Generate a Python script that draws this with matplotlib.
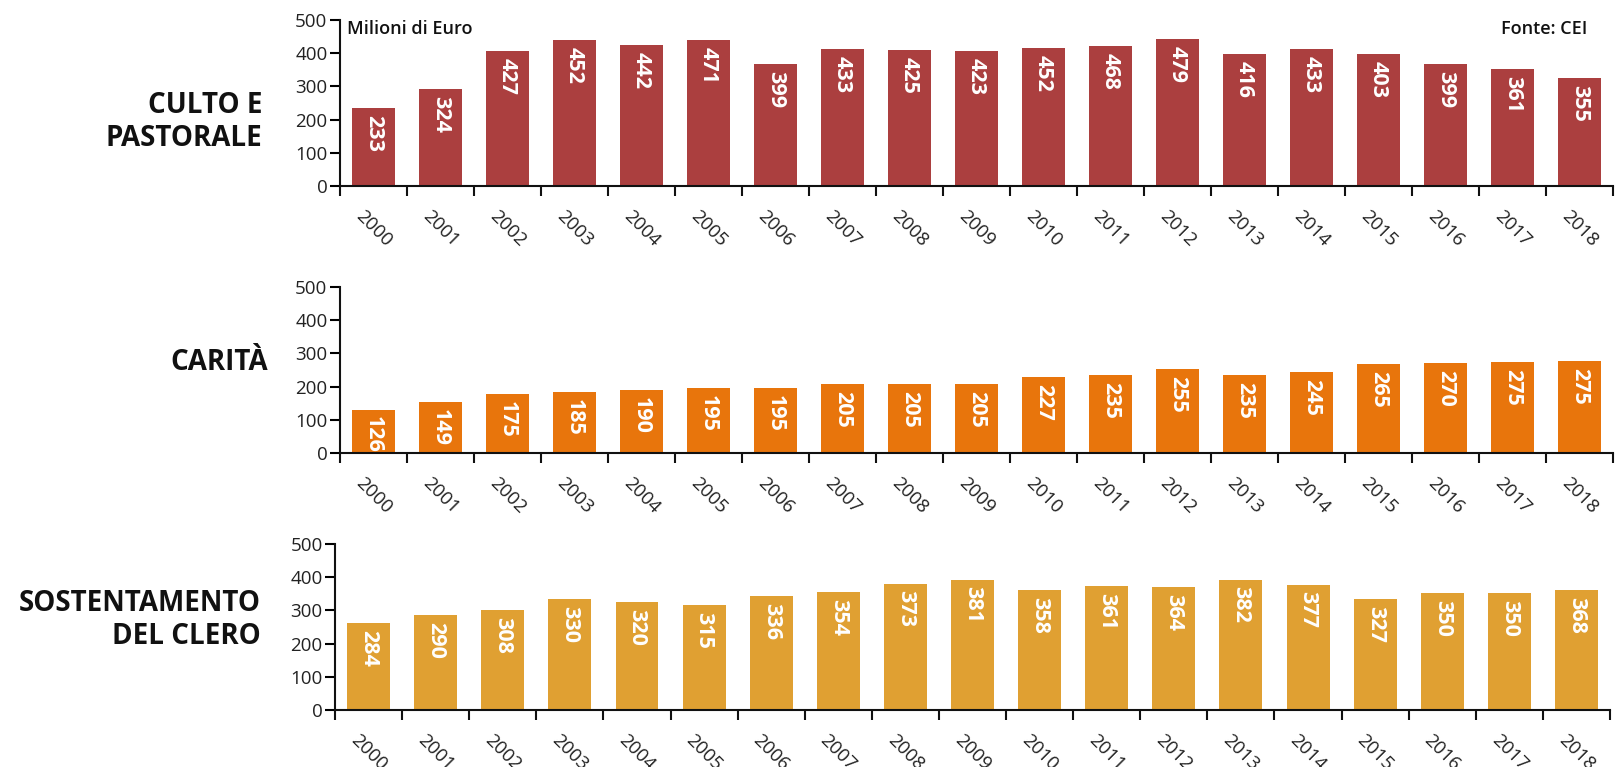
import matplotlib.pyplot as plt
import numpy as np

plt.rcParams['font.family'] = ['Open Sans', 'DejaVu Sans']

years = [str(y) for y in range(2000, 2019)]

# bar heights as drawn in the source picture
culto_bars = [234, 292, 406, 440, 425, 440, 367, 412, 409, 406, 415, 421, 443, 397, 412, 397, 367, 352, 325]
carita_bars = [131, 153, 177, 185, 191, 197, 197, 209, 209, 209, 230, 236, 254, 236, 245, 269, 272, 275, 278]
clero_bars = [262, 286, 301, 333, 324, 315, 342, 354, 381, 393, 360, 372, 369, 393, 378, 333, 351, 351, 360]

# value labels written on the bars
culto_labels = [233, 324, 427, 452, 442, 471, 399, 433, 425, 423, 452, 468, 479, 416, 433, 403, 399, 361, 355]
carita_labels = [126, 149, 175, 185, 190, 195, 195, 205, 205, 205, 227, 235, 255, 235, 245, 265, 270, 275, 275]
clero_labels = [284, 290, 308, 330, 320, 315, 336, 354, 373, 381, 358, 361, 364, 382, 377, 327, 350, 350, 368]

titles = ["CULTO E\nPASTORALE", "CARITÀ", "SOSTENTAMENTO\nDEL CLERO"]
colors = ["#AB3F3F", "#E8750C", "#E0A032"]

W, H = 1618, 767
fig = plt.figure(figsize=(W / 100, H / 100), dpi=100)

# (left, right, top, bottom) in pixels
boxes = [(340, 1613, 20, 186), (340, 1613, 287, 453), (335, 1610, 544, 710)]
title_pos = [(262, 122), (268, 362), (261, 620)]

panels = [(culto_bars, culto_labels), (carita_bars, carita_labels), (clero_bars, clero_labels)]

x = np.arange(len(years))
for i, (bars, labels) in enumerate(panels):
    l, r, t, b = boxes[i]
    ax = fig.add_axes([l / W, 1 - b / H, (r - l) / W, (b - t) / H])
    ax.bar(x, bars, width=0.64, color=colors[i])
    for xi, h, lab in zip(x, bars, labels):
        ax.annotate(str(lab), (xi, h), xytext=(0, -5), textcoords='offset points',
                    ha='center', va='top', rotation=270, color='white',
                    fontsize=15.5, fontweight='bold')
    ax.set_xlim(-0.5, len(years) - 0.5)
    ax.set_ylim(0, 500)
    ax.set_yticks(range(0, 501, 100))
    ax.set_xticks(x)
    ax.set_xticklabels(years, rotation=-45, fontsize=13.5, color='#222222')
    ax.set_xticks(np.arange(-0.5, len(years)), minor=True)
    ax.tick_params(axis='x', which='major', length=0, pad=15)
    ax.tick_params(axis='x', which='minor', length=7, width=1.5, color='#111111')
    ax.tick_params(axis='y', length=7, width=1.5, labelsize=13.5, labelcolor='#222222', pad=2)
    for s in ['top', 'right']:
        ax.spines[s].set_visible(False)
    for s in ['left', 'bottom']:
        ax.spines[s].set_linewidth(1.5)
        ax.spines[s].set_color('#111111')

    tx, ty = title_pos[i]
    fig.text(tx / W, 1 - ty / H, titles[i], ha='right', va='center', fontsize=20,
             fontweight='bold', linespacing=1.15, color='#111111')

fig.text(347 / W, 1 - 29 / H, "Milioni di Euro", ha='left', va='center',
         fontsize=13, fontweight='semibold', color='#111111')
fig.text(1587 / W, 1 - 29 / H, "Fonte: CEI", ha='right', va='center',
         fontsize=13, fontweight='semibold', color='#111111')

fig.savefig("out.png", dpi=100)
